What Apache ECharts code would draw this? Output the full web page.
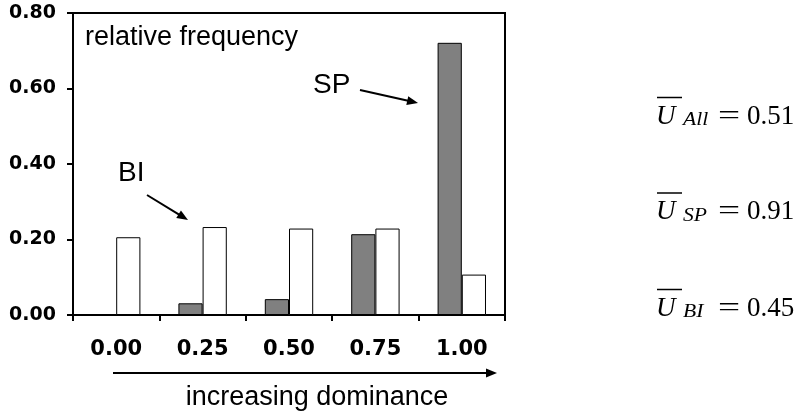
<!DOCTYPE html>
<html>
<head>
<meta charset="utf-8">
<script src="https://cdn.jsdelivr.net/npm/echarts@6/dist/echarts.min.js"></script>
<style>
html,body{margin:0;padding:0;background:#fff;}
#chart{width:796px;height:416px;}
</style>
</head>
<body>
<div id="chart"></div>
<script>
var categories = ['0.00', '0.25', '0.50', '0.75', '1.00'];
var spValues = [0, 0.031, 0.042, 0.214, 0.721];
var biValues = [0.206, 0.233, 0.229, 0.229, 0.107];
var yTicks = [0, 0.2, 0.4, 0.6, 0.8];
var meanGroups = ['All', 'SP', 'BI'];
var meanValues = ['0.51', '0.91', '0.45'];

function arrow(x1, y1, x2, y2) {
  var dx = x2 - x1, dy = y2 - y1;
  var len = Math.sqrt(dx * dx + dy * dy);
  var ux = dx / len, uy = dy / len;
  var hl = 11, hw = 4.5;
  var bx = x2 - ux * hl, by = y2 - uy * hl;
  return [
    { type: 'line', shape: { x1: x1, y1: y1, x2: bx + ux * 2, y2: by + uy * 2 },
      style: { stroke: '#000', lineWidth: 2 } },
    { type: 'polygon', shape: { points: [[x2, y2], [bx - uy * hw, by + ux * hw], [bx + uy * hw, by - ux * hw]] },
      style: { fill: '#000' } }
  ];
}

var graphics = [];
graphics.push({ type: 'text', x: 85, y: 38, style: { text: 'relative frequency', font: '27px "Liberation Sans", Arial, sans-serif', fill: '#000', verticalAlign: 'middle', align: 'left' } });
graphics.push({ type: 'text', x: 313, y: 85, style: { text: 'SP', font: '28px "Liberation Sans", Arial, sans-serif', fill: '#000', verticalAlign: 'middle', align: 'left' } });
graphics.push({ type: 'text', x: 118, y: 173, style: { text: 'BI', font: '28px "Liberation Sans", Arial, sans-serif', fill: '#000', verticalAlign: 'middle', align: 'left' } });
graphics.push({ type: 'text', x: 317, y: 398, style: { text: 'increasing dominance', font: '27px "Liberation Sans", Arial, sans-serif', fill: '#000', verticalAlign: 'middle', align: 'center' } });
graphics = graphics.concat(arrow(360, 90, 418, 103));
graphics = graphics.concat(arrow(147, 195, 188, 220));
graphics = graphics.concat(arrow(113, 373, 497, 373));

var rowCenters = [116.5, 212, 308.5];
for (var i = 0; i < meanGroups.length; i++) {
  var cy = rowCenters[i];
  graphics.push({ type: 'line', shape: { x1: 657, y1: cy - 19, x2: 682, y2: cy - 19 }, style: { stroke: '#000', lineWidth: 1.5 } });
  graphics.push({ type: 'text', x: 656, y: cy, style: { text: 'U', font: 'italic 27px "Liberation Serif", "Times New Roman", serif', fill: '#000', verticalAlign: 'middle', align: 'left' } });
  graphics.push({ type: 'text', x: 683, y: cy + 4, scaleX: 1.2, style: { text: meanGroups[i], font: 'italic 18px "Liberation Serif", "Times New Roman", serif', fill: '#000', verticalAlign: 'middle', align: 'left' } });
  graphics.push({ type: 'text', x: 718, y: cy, scaleX: 1.4, style: { text: '=', font: '28px "Liberation Serif", "Times New Roman", serif', fill: '#000', verticalAlign: 'middle', align: 'left' } });
  graphics.push({ type: 'text', x: 747, y: cy, style: { text: meanValues[i], font: '27px "Liberation Serif", "Times New Roman", serif', fill: '#000', verticalAlign: 'middle', align: 'left' } });
}

var chart = echarts.init(document.getElementById('chart'), null, { renderer: 'canvas' });
chart.setOption({
  animation: false,
  backgroundColor: '#fff',
  grid: { left: 73, right: 291, top: 13, bottom: 101, show: true, borderColor: '#000', borderWidth: 2, backgroundColor: 'transparent' },
  xAxis: {
    type: 'category',
    data: categories,
    axisLine: { lineStyle: { color: '#000', width: 2 } },
    axisTick: { show: true, length: 6, lineStyle: { color: '#000', width: 2 } },
    axisLabel: { color: '#000', fontFamily: 'DejaVu Sans', fontWeight: 'bold', fontSize: 21, lineHeight: 21, margin: 24 },
    splitLine: { show: false }
  },
  yAxis: {
    type: 'value',
    min: yTicks[0],
    max: yTicks[yTicks.length - 1],
    interval: yTicks[1] - yTicks[0],
    axisLine: { show: true, lineStyle: { color: '#000', width: 2 } },
    axisTick: { show: true, length: 6, lineStyle: { color: '#000', width: 2 } },
    axisLabel: { color: '#000', fontFamily: 'DejaVu Sans', fontWeight: 'bold', fontSize: 19, margin: 17,
      formatter: function (v) { return v.toFixed(2); } },
    splitLine: { show: false }
  },
  series: [
    { name: 'SP', type: 'bar', data: spValues, barWidth: '28%', barGap: '0%',
      itemStyle: { color: '#808080', borderColor: '#000', borderWidth: 1 } },
    { name: 'BI', type: 'bar', data: biValues, barWidth: '28%', barGap: '0%',
      itemStyle: { color: '#fff', borderColor: '#000', borderWidth: 1 } }
  ],
  graphic: graphics
});
</script>
</body>
</html>
